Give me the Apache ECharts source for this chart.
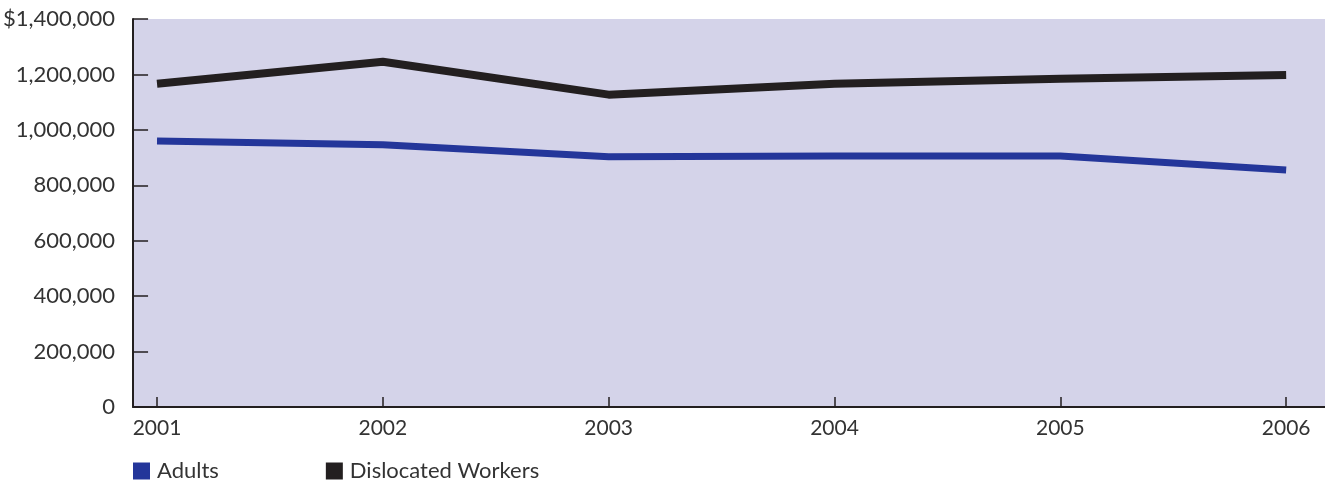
<!DOCTYPE html>
<html>
<head>
<meta charset="utf-8">
<script src="https://cdn.jsdelivr.net/npm/echarts@6/dist/echarts.min.js"></script>
<style>
  html, body { margin: 0; padding: 0; background: #fff; }
  #chart { width: 1325px; height: 482px; }
</style>
</head>
<body>
<div id="chart"></div>
<script>
var years = [2001, 2002, 2003, 2004, 2005, 2006];
var adults = [960000, 946000, 903000, 906000, 906000, 855000];
var dislocated = [1166000, 1246000, 1127000, 1166000, 1184000, 1198000];
var yTicks = [0, 200000, 400000, 600000, 800000, 1000000, 1200000, 1400000];

var chart = echarts.init(document.getElementById('chart'));

function pairs(vals) {
  return years.map(function (y, i) { return [y, vals[i]]; });
}

var txt = '#333';
var axisDark = '#231f20';

var option = {
  animation: false,
  textStyle: { fontFamily: 'Lato' },
  grid: {
    left: 131,
    right: 0,
    top: 19,
    bottom: 75,
    show: true,
    backgroundColor: '#d4d3e9',
    borderWidth: 0
  },
  legend: {
    left: 133,
    top: 460,
    padding: 0,
    itemWidth: 17,
    itemHeight: 17,
    itemGap: 107,
    icon: 'rect',
    textStyle: { fontSize: 22, color: txt, fontFamily: 'Lato', padding: [0, 0, 0, 2] },
    data: ['Adults', 'Dislocated Workers']
  },
  xAxis: {
    type: 'value',
    min: 2000.894,
    max: 2006.172,
    splitLine: { show: false },
    axisLine: { lineStyle: { color: axisDark, width: 2 } },
    axisTick: {
      inside: true,
      length: 10,
      customValues: years,
      lineStyle: { color: axisDark, width: 1.5 }
    },
    axisLabel: {
      customValues: years,
      margin: 11,
      fontSize: 21,
      color: txt,
      formatter: function (v) { return String(v); }
    }
  },
  yAxis: {
    type: 'value',
    min: 0,
    max: 1400000,
    interval: 200000,
    splitLine: { show: false },
    axisLine: { show: true, lineStyle: { color: axisDark, width: 2 } },
    axisTick: {
      show: true,
      inside: true,
      length: 15,
      lineStyle: { color: axisDark, width: 1.5 }
    },
    axisLabel: {
      margin: 18,
      fontSize: 22,
      color: txt,
      formatter: function (v) {
        var s = v.toLocaleString('en-US');
        return v === yTicks[yTicks.length - 1] ? '$' + s : s;
      }
    }
  },
  series: [
    {
      name: 'Adults',
      type: 'line',
      data: pairs(adults),
      showSymbol: false,
      color: '#24369a',
      lineStyle: { width: 7, color: '#24369a' }
    },
    {
      name: 'Dislocated Workers',
      type: 'line',
      data: pairs(dislocated),
      showSymbol: false,
      color: '#231f20',
      lineStyle: { width: 8, color: '#231f20' }
    }
  ]
};

chart.setOption(option);
</script>
</body>
</html>
